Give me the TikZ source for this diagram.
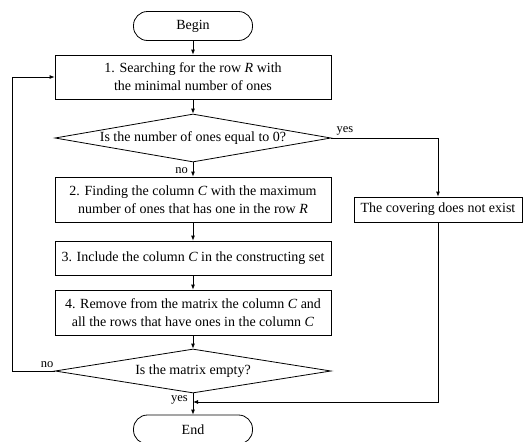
\documentclass[tikz,border=0pt]{standalone}
\usepackage{fontspec}
\setmainfont{Liberation Serif}
\usetikzlibrary{shapes.geometric,arrows.meta}
\begin{document}
\begin{tikzpicture}[x=1pt,y=-1pt,
  base/.style={draw, line width=0.8pt, align=center, inner sep=0pt, font=\fontsize{14}{18}\selectfont},
  procbox/.style={base, rectangle, minimum width=276pt},
  termbox/.style={base, rectangle, rounded corners=14pt, minimum width=119pt, minimum height=29pt},
  decbox/.style={base, diamond, aspect=5.75, minimum width=276pt},
  lbl/.style={inner sep=0pt, font=\fontsize{12.5}{14}\selectfont},
  arr/.style={line width=0.8pt, -{Latex[length=5pt,width=4pt]}}]
\useasboundingbox (0,0) rectangle (523,442);
\node[termbox] (begin) at (193,26) {Begin};
\node[procbox, minimum height=44pt] (b1) at (193,77) {1. Searching for the row \textit{R} with\\the minimal number of ones};
\node[decbox, minimum height=48pt] (d1) at (193,138) {Is the number of ones equal to 0?};
\node[procbox, minimum height=45pt] (b2) at (193,199.5) {2. Finding the column \textit{C} with the maximum\\number of ones that has one in the row \textit{R}};
\node[base, rectangle, minimum width=168pt, minimum height=25pt] (cov) at (438,209.5) {The covering does not exist};
\node[procbox, minimum height=34pt] (b3) at (193,258) {3. Include the column \textit{C} in the constructing set};
\node[procbox, minimum height=45pt] (b4) at (193,312.5) {4. Remove from the matrix the column \textit{C} and\\all the rows that have ones in the column \textit{C}};
\node[decbox, aspect=6.27, minimum height=44pt] (d2) at (193,371) {Is the matrix empty?};
\node[termbox] (end) at (193,429.5) {End};
\coordinate (join) at (193,402);

\draw[arr] (begin) -- (b1);
\draw[arr] (b1) -- (d1);
\draw[arr] (d1) -- (b2);
\draw[arr] (d1.east) -| (cov.north);
\draw[arr] (b2) -- (b3);
\draw[arr] (b3) -- (b4);
\draw[arr] (b4) -- (d2);
\draw[arr] (d2) -- (end);
\draw[arr] (d2.west) -- ++(-42,0) |- (b1.west);
\draw[arr] (cov.south) |- (join);

\node[lbl, anchor=south west] (yes1) at ([shift={(5,-3)}]d1.east) {yes};
\node[lbl, anchor=east] (no1) at ([shift={(-5,8)}]d1.south) {no};
\node[lbl, anchor=south east] (no2) at ([shift={(-1,-3)}]d2.west) {no};
\node[lbl, anchor=east] (yes2) at ([shift={(-5,7)}]d2.south) {yes};
\end{tikzpicture}
\end{document}
